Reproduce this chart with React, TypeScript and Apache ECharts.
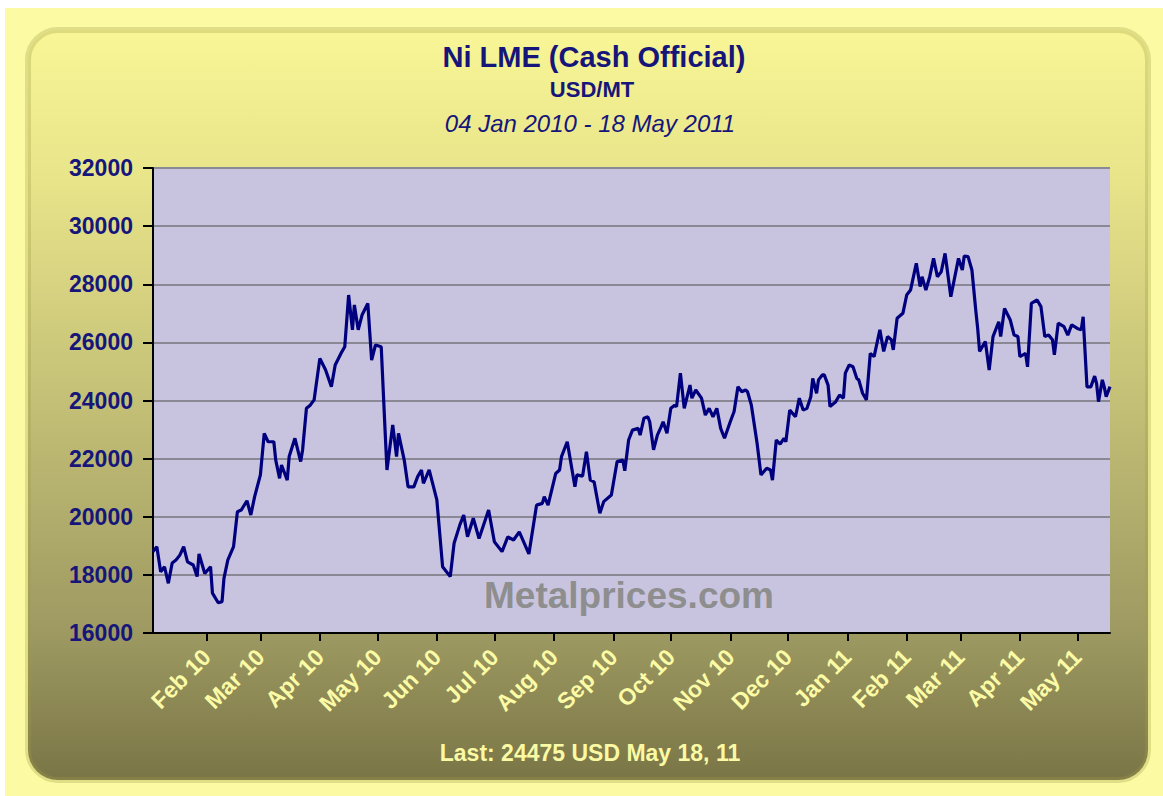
import React, { useEffect, useRef } from "react";
import * as echarts from "echarts";

const titleText = "Ni LME (Cash Official)";
const unitText = "USD/MT";
const rangeText = "04 Jan 2010 - 18 May 2011";
const lastText = "Last: 24475 USD May 18, 11";
const watermarkText = "Metalprices.com";

const monthAbbr = ["Jan", "Feb", "Mar", "Apr", "May", "Jun", "Jul", "Aug", "Sep", "Oct", "Nov", "Dec"];
const yTicks = { min: 16000, max: 32000, interval: 2000 };
const xRange = { start: "2010-01-04", end: "2011-05-18" };

const dates = [
  "2010-01-04","2010-01-06","2010-01-08","2010-01-10","2010-01-12","2010-01-14","2010-01-16","2010-01-18","2010-01-20","2010-01-22",
  "2010-01-25","2010-01-27","2010-01-28","2010-01-31","2010-02-03","2010-02-04","2010-02-07","2010-02-09","2010-02-10","2010-02-12",
  "2010-02-15","2010-02-17","2010-02-19","2010-02-22","2010-02-24","2010-02-26","2010-03-01","2010-03-03","2010-03-05","2010-03-08",
  "2010-03-09","2010-03-11","2010-03-12","2010-03-15","2010-03-16","2010-03-19","2010-03-22","2010-03-23","2010-03-25","2010-03-27",
  "2010-03-29","2010-04-01","2010-04-04","2010-04-07","2010-04-09","2010-04-12","2010-04-14","2010-04-16","2010-04-18","2010-04-19",
  "2010-04-21","2010-04-23","2010-04-26","2010-04-28","2010-04-30","2010-05-03","2010-05-05","2010-05-06","2010-05-09","2010-05-11",
  "2010-05-12","2010-05-15","2010-05-17","2010-05-20","2010-05-22","2010-05-24","2010-05-25","2010-05-28","2010-06-01","2010-06-04",
  "2010-06-08","2010-06-10","2010-06-13","2010-06-15","2010-06-17","2010-06-20","2010-06-23","2010-06-28","2010-07-01","2010-07-05",
  "2010-07-08","2010-07-11","2010-07-14","2010-07-19","2010-07-23","2010-07-26","2010-07-27","2010-07-29","2010-08-02","2010-08-04",
  "2010-08-05","2010-08-08","2010-08-12","2010-08-13","2010-08-16","2010-08-18","2010-08-20","2010-08-22","2010-08-25","2010-08-27",
  "2010-08-31","2010-09-03","2010-09-06","2010-09-07","2010-09-09","2010-09-11","2010-09-14","2010-09-15","2010-09-17","2010-09-19",
  "2010-09-20","2010-09-22","2010-09-24","2010-09-26","2010-09-27","2010-09-29","2010-10-01","2010-10-03","2010-10-04","2010-10-06",
  "2010-10-08","2010-10-11","2010-10-12","2010-10-14","2010-10-17","2010-10-19","2010-10-21","2010-10-23","2010-10-25","2010-10-27",
  "2010-10-29","2010-11-01","2010-11-03","2010-11-05","2010-11-07","2010-11-09","2010-11-10","2010-11-12","2010-11-15","2010-11-17",
  "2010-11-20","2010-11-22","2010-11-23","2010-11-25","2010-11-27","2010-11-29","2010-11-30","2010-12-02","2010-12-05","2010-12-07",
  "2010-12-09","2010-12-11","2010-12-13","2010-12-14","2010-12-16","2010-12-17","2010-12-19","2010-12-20","2010-12-22","2010-12-23",
  "2010-12-26","2010-12-28","2010-12-30","2010-12-31","2011-01-02","2011-01-04","2011-01-06","2011-01-07","2011-01-09","2011-01-11",
  "2011-01-13","2011-01-15","2011-01-18","2011-01-20","2011-01-22","2011-01-24","2011-01-25","2011-01-27","2011-01-30","2011-02-01",
  "2011-02-03","2011-02-06","2011-02-08","2011-02-09","2011-02-11","2011-02-13","2011-02-15","2011-02-17","2011-02-19","2011-02-21",
  "2011-02-24","2011-02-28","2011-03-02","2011-03-03","2011-03-05","2011-03-07","2011-03-09","2011-03-10","2011-03-11","2011-03-14",
  "2011-03-16","2011-03-18","2011-03-21","2011-03-22","2011-03-24","2011-03-27","2011-03-29","2011-03-31","2011-04-01","2011-04-04",
  "2011-04-05","2011-04-07","2011-04-10","2011-04-12","2011-04-14","2011-04-16","2011-04-18","2011-04-19","2011-04-21","2011-04-24",
  "2011-04-26","2011-04-28","2011-05-01","2011-05-03","2011-05-04","2011-05-06","2011-05-08","2011-05-10","2011-05-11","2011-05-12",
  "2011-05-14","2011-05-15","2011-05-16","2011-05-18"
];

const prices = [
  18800,18970,18110,18280,17710,18410,18510,18680,18970,18450,
  18340,17940,18720,18050,18280,17370,17040,17080,17880,18510,
  18970,20170,20230,20550,20060,20690,21440,22870,22580,22580,
  21950,21320,21780,21260,22070,22700,21900,22300,23730,23840,
  24020,25450,25050,24470,25220,25620,25850,27630,26430,27290,
  26430,26940,27340,25390,25910,25850,22980,21610,23160,22070,
  22870,21950,21030,21030,21380,21610,21150,21610,20580,18280,
  17940,19090,19720,20060,19310,19950,19250,20230,19140,18800,
  19310,19200,19480,18720,20400,20460,20690,20400,21490,21610,
  22070,22580,21030,21440,21400,22240,21260,21200,20120,20520,
  20750,21900,21950,21580,22640,22980,23040,22810,23390,23440,
  23270,22300,22810,23100,23270,22870,23730,23840,23790,24940,
  23730,24530,24080,24360,24080,23500,23730,23440,23730,23040,
  22700,23270,23620,24470,24300,24360,24300,23840,22520,21440,
  21670,21610,21260,22640,22500,22700,22580,23670,23440,24080,
  23670,23730,24130,24760,24250,24710,24880,24880,24530,23790,
  23960,24190,24080,24940,25220,25160,24760,24710,24250,24020,
  25620,25510,26430,25690,26200,26090,25740,26830,27000,27630,
  27800,28720,27920,28260,27800,28260,28890,28260,28430,29060,
  27570,28890,28490,28970,28950,28490,27110,26480,25690,26030,
  25050,26200,26710,26200,27170,26770,26250,26200,25510,25620,
  25160,27340,27460,27230,26200,26250,26090,25570,26660,26540,
  26250,26600,26480,26430,26880,24470,24470,24840,24590,23960,
  24710,24470,24130,24475
];

const seriesData = dates.map((d, i) => [d, prices[i]]);

export default function App() {
  const ref = useRef<HTMLDivElement>(null);
  useEffect(() => {
    if (!ref.current) return;
    const chart = echarts.init(ref.current, null, { renderer: "svg" });
    const DAY = 86400000;
    const FONT = "'Liberation Sans', Arial, sans-serif";
    chart.setOption({
      animation: false,
      backgroundColor: "#ffffff",
      graphic: [
        {
          type: "rect", z: -10, silent: true,
          shape: { x: 5, y: 8, width: 1158, height: 788 },
          style: { fill: "#fcfba4" },
        },
        {
          type: "rect", z: -9, silent: true,
          shape: { x: 28, y: 30, width: 1120, height: 750, r: 30 },
          style: {
            fill: new echarts.graphic.LinearGradient(0, 0, 0, 1, [
              { offset: 0, color: "#f8f696" },
              { offset: 0.2, color: "#e8e48a" },
              { offset: 0.8, color: "#9e9a62" },
              { offset: 1, color: "#7a7546" },
            ]),
            stroke: "rgba(160,155,70,0.3)",
            lineWidth: 6,
          },
        },
        {
          type: "text", silent: true, z: 10,
          style: { text: titleText, x: 594, y: 57, align: "center", verticalAlign: "middle", fill: "#16167a", font: `bold 29px ${FONT}` },
        },
        {
          type: "text", silent: true, z: 10,
          style: { text: unitText, x: 592, y: 89, align: "center", verticalAlign: "middle", fill: "#16167a", font: `bold 22px ${FONT}` },
        },
        {
          type: "text", silent: true, z: 10,
          style: { text: rangeText, x: 590, y: 123, align: "center", verticalAlign: "middle", fill: "#16167a", font: `italic 24px ${FONT}` },
        },
        {
          type: "text", silent: true, z: 10,
          style: { text: lastText, x: 590, y: 753, align: "center", verticalAlign: "middle", fill: "#fafaa4", font: `bold 23px ${FONT}` },
        },
        {
          type: "text", silent: true, z: 1,
          style: { text: watermarkText, x: 629, y: 595, align: "center", verticalAlign: "middle", fill: "#8e8e8e", font: `bold 37px ${FONT}` },
        },
      ],
      grid: {
        left: 153, top: 168, right: 53, bottom: 163,
        show: true, backgroundColor: "#c8c4e0", borderWidth: 0,
      },
      xAxis: {
        type: "time",
        min: xRange.start,
        max: xRange.end,
        splitNumber: 16,
        minInterval: 28 * DAY,
        maxInterval: 31 * DAY,
        axisLine: { show: true, lineStyle: { color: "#000000", width: 2 } },
        axisTick: { show: true, length: 8, lineStyle: { color: "#000000", width: 2 } },
        splitLine: { show: false },
        axisLabel: {
          rotate: 45,
          margin: 20,
          hideOverlap: false,
          color: "#fbfba6",
          fontWeight: "bold",
          fontSize: 23,
          fontFamily: FONT,
          formatter: (v: number) => {
            const d = new Date(v);
            return monthAbbr[d.getMonth()] + " " + String(d.getFullYear()).slice(2);
          },
        },
      },
      yAxis: {
        type: "value",
        min: yTicks.min,
        max: yTicks.max,
        interval: yTicks.interval,
        axisLine: { show: true, lineStyle: { color: "#000000", width: 2 } },
        axisTick: { show: true, length: 10, lineStyle: { color: "#000000", width: 2 } },
        splitLine: { show: true, lineStyle: { color: "#8a8894", width: 2 } },
        axisLabel: {
          margin: 20,
          color: "#16167a",
          fontWeight: "bold",
          fontSize: 23,
          fontFamily: FONT,
          formatter: (v: number) => String(v),
        },
      },
      series: [
        {
          type: "line",
          data: seriesData,
          showSymbol: false,
          symbol: "none",
          lineStyle: { color: "#00007f", width: 3.2 },
          z: 5,
        },
      ],
    });
    return () => chart.dispose();
  }, []);
  return <div ref={ref} style={{ position: "fixed", left: 0, top: 0, width: 1163, height: 796 }} />;
}
